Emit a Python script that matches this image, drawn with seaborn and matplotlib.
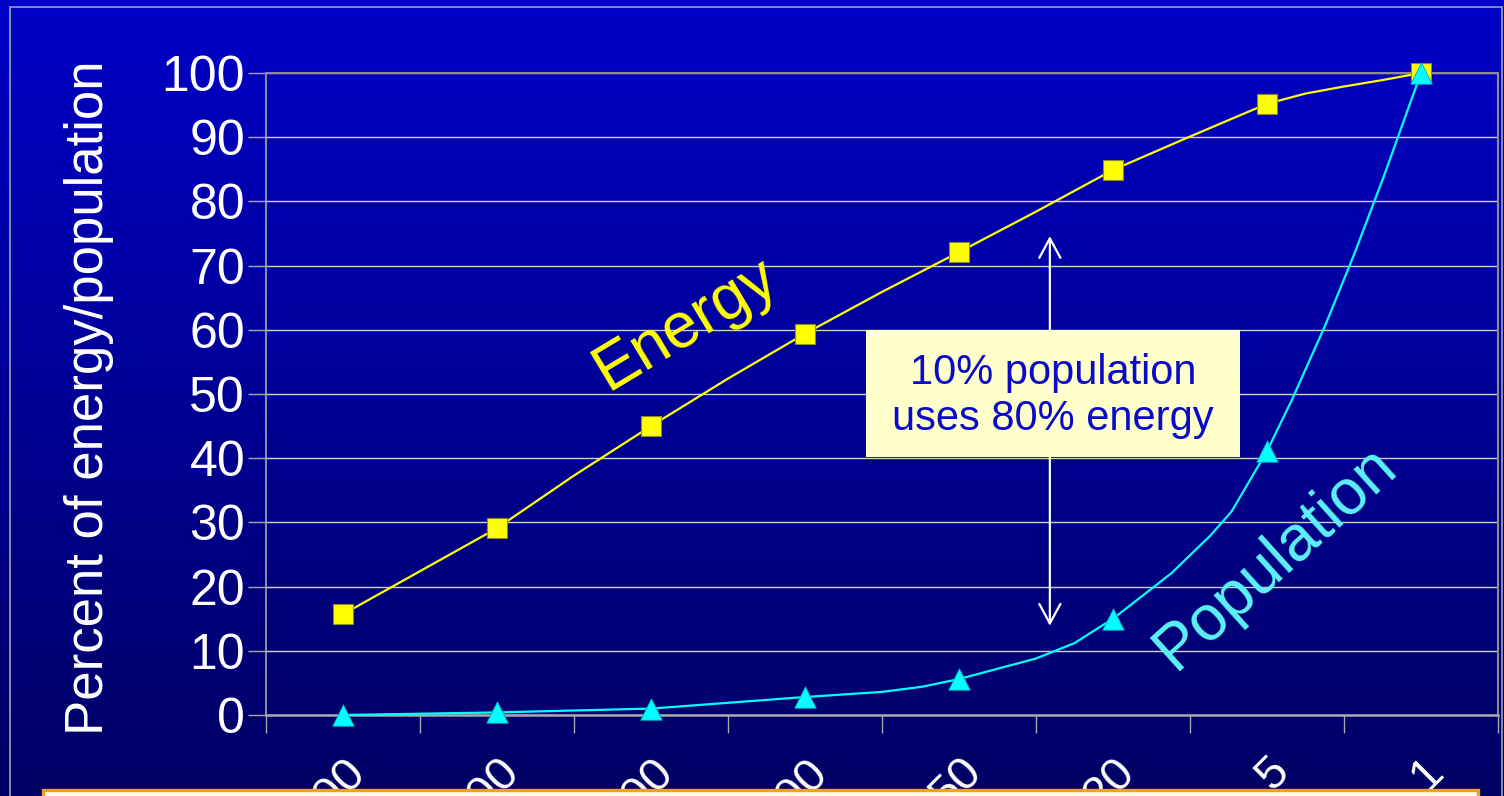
import numpy as np
import matplotlib
matplotlib.use("Agg")
import matplotlib.pyplot as plt
from matplotlib.colors import LinearSegmentedColormap
from matplotlib.patches import Rectangle
from matplotlib.transforms import ScaledTranslation
import seaborn as sns

plt.rcParams['font.family'] = ['Liberation Sans', 'DejaVu Sans']

# Category labels along the x axis (thresholds, highest first)
categories = ["1000", "500", "200", "100", "50", "20", "5", "1"]

# Cumulative share (%) at each category
energy_pct = [15.7, 29.1, 45.0, 59.4, 72.1, 84.9, 95.2, 100.0]
population_pct = [0.0, 0.4, 1.0, 2.8, 5.6, 15.0, 41.1, 100.0]

# Additional unmarked samples of each curve between categories
energy_between_x = [0.5, 1.5, 2.5, 3.5, 4.5, 5.5, 6.25, 6.5, 6.75]
energy_between_y = [22.4, 37.3, 52.4, 65.9, 78.4, 90.1, 96.8, 97.9, 98.9]
population_between_x = [3.5, 3.76, 4.5, 4.75, 5.38, 5.63, 5.77, 6.16, 6.38, 6.57, 6.76]
population_between_y = [3.6, 4.4, 8.8, 11.2, 22.1, 27.9, 31.7, 49.0, 60.8, 72.0, 84.0]

y_ticks = list(range(0, 101, 10))


def full_curve(marked_y, between_x, between_y):
    xs = list(range(len(marked_y))) + list(between_x)
    ys = list(marked_y) + list(between_y)
    order = np.argsort(xs)
    return np.asarray(xs, float)[order], np.asarray(ys, float)[order]


W, H = 1504, 796
fig = plt.figure(figsize=(W / 100, H / 100), dpi=100)

# Vertical blue gradient behind everything
bg = fig.add_axes([0, 0, 1, 1], zorder=-10)
grad = np.linspace(1, 0, 256).reshape(-1, 1)
cmap = LinearSegmentedColormap.from_list("bg", ["#000064", "#0000C8"])
bg.imshow(grad, aspect='auto', cmap=cmap, extent=[0, 1, 0, 1], origin='upper')
bg.set_axis_off()

ax = fig.add_axes([266 / W, 1 - 715 / H, (1498 - 266) / W, (715 - 73) / H])
ax.set_facecolor('none')

cat_pos = np.arange(len(categories))
ex, ey = full_curve(energy_pct, energy_between_x, energy_between_y)
px, py = full_curve(population_pct, population_between_x, population_between_y)

sns.lineplot(x=ex, y=ey, ax=ax, color='#FFFF00', lw=1.6, zorder=3, clip_on=False)
sns.lineplot(x=px, y=py, ax=ax, color='#00FFFF', lw=1.6, zorder=4, clip_on=False)
sns.scatterplot(x=cat_pos, y=energy_pct, ax=ax, marker='s', s=190, color='#FFFF00',
                edgecolor='#8C8C20', linewidth=0.8, zorder=5, clip_on=False)
sns.scatterplot(x=cat_pos, y=population_pct, ax=ax, marker='^', s=240, color='#00FFFF',
                edgecolor='#00A8B0', linewidth=0.6, zorder=6, clip_on=False)

ax.set_xlim(-0.5, len(categories) - 0.5)
ax.set_ylim(0, 100)
ax.set_xlabel("")

# Axis ticks: labels at category centres, tick marks at category boundaries
ax.set_xticks(cat_pos)
ax.set_xticklabels(categories)
ax.set_xticks(np.arange(-0.5, len(categories), 1), minor=True)
ax.tick_params(axis='x', which='major', length=0, pad=25, labelsize=34, labelcolor='white')
ax.tick_params(axis='x', which='minor', length=13, width=1, color='#A8A8A8', direction='out')
ax.set_yticks(y_ticks)
ax.tick_params(axis='y', length=13, width=1, color='#A8A8A8', direction='out', pad=2,
               labelsize=36, labelcolor='white')
shift = ScaledTranslation(0.0, 0, fig.dpi_scale_trans)
for lab in ax.get_xticklabels():
    lab.set_rotation(45)
    lab.set_ha('right')
    lab.set_va('top')
    lab.set_rotation_mode('anchor')
    lab.set_transform(lab.get_transform() + shift)

for side in ['top', 'right']:
    ax.spines[side].set_color('#8C8C8C')
    ax.spines[side].set_linewidth(1.5)
ax.spines['left'].set_color('#A8A8A8')
ax.spines['left'].set_linewidth(1.2)
ax.spines['bottom'].set_color('#A8A8A8')
ax.spines['bottom'].set_linewidth(1.8)

ax.yaxis.grid(True, color='#D0D0D0', lw=1.0)
ax.xaxis.grid(False)
ax.set_axisbelow(True)

ax.set_ylabel("Percent of energy/population", fontsize=38, color='white')
ax.yaxis.set_label_coords(-0.1234, 0.4945)

# Series labels written along the curves
ax.text(1.718, 50.5, "Energy", rotation=31, rotation_mode='anchor', ha='left',
        va='baseline', fontsize=46, color='#FFFF00', zorder=8)
ax.text(5.40, 6.8, "Population", rotation=42, rotation_mode='anchor', ha='left',
        va='baseline', fontsize=46, color='#5CF2F8', zorder=8)

# Double-headed arrow with the call-out box over it
ax.annotate('', xy=(4.59, 74.6), xytext=(4.59, 13.9),
            arrowprops=dict(arrowstyle='<->,head_length=0.7,head_width=0.38',
                            color='white', lw=1.6, mutation_scale=20,
                            shrinkA=0, shrinkB=0),
            zorder=6)
ax.add_patch(Rectangle((3.396, 40.2), 2.429, 19.8, facecolor='#FFFFCC',
                       edgecolor='none', zorder=7))
ax.text(4.61, 49.7, "10% population\nuses 80% energy", ha='center', va='center',
        fontsize=30, color='#0A0AC8', linespacing=1.22, zorder=8)

# Frame around the slide and the box along the bottom edge
fig.add_artist(Rectangle((10 / W, -0.1), (1502 - 10) / W, 1.1 - 7 / H,
                         transform=fig.transFigure, fill=False,
                         edgecolor='#A0A0B8', lw=1.2, zorder=1))
fig.add_artist(Rectangle((43 / W, -0.05), (1478 - 43) / W, 0.05 + 6 / H,
                         transform=fig.transFigure, facecolor='#FFFDE8',
                         edgecolor='#F0A028', lw=2.4, zorder=20))

fig.savefig('out.png', dpi=100)
